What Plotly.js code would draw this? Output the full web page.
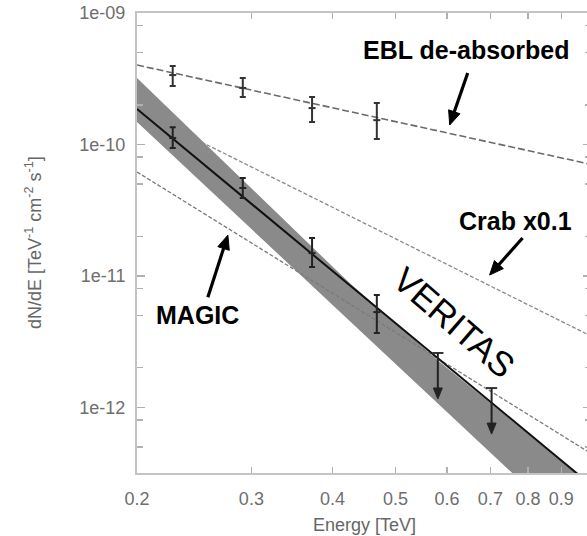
<!DOCTYPE html>
<html>
<head>
<meta charset="utf-8">
<script src="https://cdn.plot.ly/plotly-3.0.1.min.js"></script>
<style>
  html, body { margin: 0; padding: 0; overflow: hidden; background: #fff; }
  #chart { width: 600px; height: 536px; }
</style>
</head>
<body>
<div id="chart"></div>
<script>
// Energy axis ticks [TeV]
const xTickVals = [0.2, 0.3, 0.4, 0.5, 0.6, 0.7, 0.8, 0.9];
const xTickText = ['0.2', '0.3', '0.4', '0.5', '0.6', '0.7', '0.8', '0.9'];

// Flux axis ticks [TeV^-1 cm^-2 s^-1]
const yTickVals = [1e-9, 1e-10, 1e-11, 1e-12];
const yTickText = ['1e-09', '1e-10', '1e-11', '1e-12'];
const yMinorVals = [8e-10, 5e-10, 2e-10, 8e-11, 5e-11, 2e-11, 8e-12, 5e-12, 2e-12, 8e-13, 5e-13];

// Power-law curves (end points in energy / flux)
const eblLineE = [0.2, 1.0];
const eblLineF = [4.02e-10, 7.05e-11];
const crabE = [0.2, 1.0];
const crabF = [1.83e-10, 3.48e-12];
const magicE = [0.2, 1.0];
const magicF = [6.17e-11, 4.45e-13];
const veritasFitE = [0.2, 1.0];
const veritasFitF = [1.86e-10, 2.56e-13];

// VERITAS confidence band edges
const bandUpperE = [0.2, 0.425, 0.585, 1.0];
const bandUpperF = [3.20e-10, 8.81e-12, 2.21e-12, 2.61e-13];
const bandLowerE = [0.2, 1.0];
const bandLowerF = [1.48e-10, 8.7e-14];

// Measured VERITAS points
const pointE = [0.227, 0.291, 0.372, 0.468];
const veritasF = [1.12e-10, 4.66e-11, 1.49e-11, 5.3e-12];
const veritasLo = [9.4e-11, 3.91e-11, 1.17e-11, 3.67e-12];
const veritasHi = [1.35e-10, 5.55e-11, 1.94e-11, 7.14e-12];

// EBL de-absorbed points
const eblF = [3.37e-10, 2.69e-10, 1.89e-10, 1.53e-10];
const eblLo = [2.78e-10, 2.30e-10, 1.48e-10, 1.10e-10];
const eblHi = [3.95e-10, 3.20e-10, 2.30e-10, 2.07e-10];

// Upper limits
const ulE = [0.581, 0.703];
const ulF = [2.59e-12, 1.40e-12];

// Label texts and the points their arrows touch
const labels = ['EBL de-absorbed', 'Crab x0.1', 'MAGIC'];
const labelE = [0.644, 0.766, 0.248];
const labelF = [5.23e-10, 2.61e-11, 5.03e-12];
const pointerE = [0.606, 0.698, 0.276];
const pointerF = [1.405e-10, 1.014e-11, 2.04e-11];
const pointerTail = [[18, -52], [33, -37], [-20, 62]];   // pixel offset of the arrow tail

const plus = (v, hi) => v.map((f, i) => hi[i] - f);
const minus = (v, lo) => v.map((f, i) => f - lo[i]);

const bandX = bandUpperE.concat(bandLowerE.slice().reverse());
const bandY = bandUpperF.concat(bandLowerF.slice().reverse());

const traces = [
  { x: bandX, y: bandY, mode: 'lines', fill: 'toself',
    fillcolor: 'rgb(138,138,138)', line: { width: 0 }, hoverinfo: 'skip' },
  { x: eblLineE, y: eblLineF, mode: 'lines',
    line: { color: '#6a6a6a', width: 1.6, dash: '7px,3px' } },
  { x: crabE, y: crabF, mode: 'lines',
    line: { color: '#8a8a8a', width: 1.3, dash: '4px,2px' } },
  { x: magicE, y: magicF, mode: 'lines',
    line: { color: '#7a7a7a', width: 1.3, dash: '4px,2px' } },
  { x: veritasFitE, y: veritasFitF, mode: 'lines',
    line: { color: '#111', width: 2 } },
  { x: pointE, y: eblF, mode: 'markers',
    marker: { symbol: 'line-ew', size: 5, line: { width: 2, color: '#333' } },
    error_y: { type: 'data', array: plus(eblF, eblHi), arrayminus: minus(eblF, eblLo),
               color: '#333', thickness: 2, width: 3 } },
  { x: pointE, y: veritasF, mode: 'markers',
    marker: { symbol: 'line-ew', size: 5, line: { width: 2, color: '#222' } },
    error_y: { type: 'data', array: plus(veritasF, veritasHi), arrayminus: minus(veritasF, veritasLo),
               color: '#222', thickness: 2, width: 3 } },
  { x: ulE, y: ulF, mode: 'markers',
    marker: { symbol: 'line-ew', size: 8, line: { width: 2, color: '#333' } } }
];

// Arrow drawn as a shaft plus a filled head, in pixels around a data anchor.
// (tx, ty) tail and (hx, hy) head are screen offsets (y downwards).
function arrowShapes(ax, ay, tx, ty, hx, hy, width, headLen, headHalf, color) {
  const dx = tx - hx, dy = ty - hy;
  const len = Math.hypot(dx, dy);
  const ux = dx / len, uy = dy / len;
  const bx = hx + ux * headLen, by = hy + uy * headLen;
  const sx = hx + ux * headLen * 0.7, sy = hy + uy * headLen * 0.7;
  const px = -uy, py = ux;
  const v1 = [bx + px * headHalf, by + py * headHalf];
  const v2 = [bx - px * headHalf, by - py * headHalf];
  const common = { type: 'path', xref: 'x', yref: 'y', xsizemode: 'pixel', ysizemode: 'pixel',
                   xanchor: ax, yanchor: ay };
  return [
    Object.assign({ path: `M${sx},${-sy} L${tx},${-ty}`,
                    line: { color: color, width: width } }, common),
    Object.assign({ path: `M${hx},${-hy} L${v1[0]},${-v1[1]} L${v2[0]},${-v2[1]} Z`,
                    fillcolor: color, line: { color: color, width: 1 } }, common)
  ];
}

const shapes = [];
pointerE.forEach((e, i) => {
  shapes.push(...arrowShapes(e, pointerF[i], pointerTail[i][0], pointerTail[i][1], 0, 0,
                             3.2, 14, 6, '#000'));
});
ulE.forEach((e, i) => {
  shapes.push(...arrowShapes(e, ulF[i], 0, 0, 0, 46, 2, 11, 4.5, '#222'));
});

const font = 'Liberation Sans, Arial, sans-serif';
const lg = Math.log10;

const annotations = labels.map((t, i) => ({
  x: lg(labelE[i]), y: lg(labelF[i]), xref: 'x', yref: 'y', text: '<b>' + t + '</b>',
  showarrow: false, font: { family: font, size: 25, color: '#000' }
}));
annotations.push(
  { x: lg(0.617), y: lg(4.45e-12), xref: 'x', yref: 'y', text: 'VERITAS', textangle: 41,
    showarrow: false, font: { family: font, size: 35, color: '#000' } },
  { x: 0, y: 0.5, xref: 'paper', yref: 'paper', xshift: -104, xanchor: 'center', yanchor: 'middle',
    textangle: -90, showarrow: false,
    text: 'dN/dE [TeV<sup>-1</sup> cm<sup>-2</sup> s<sup>-1</sup>]',
    font: { family: font, size: 18, color: '#666' } },
  { x: 0.5, y: 0, xref: 'paper', yref: 'paper', yshift: -52, xanchor: 'center', yanchor: 'middle',
    showarrow: false, text: 'Energy [TeV]',
    font: { family: font, size: 18, color: '#666' } }
);

const axisCommon = {
  type: 'log', showgrid: false, zeroline: false,
  showline: true, linecolor: '#c4c4c4', linewidth: 2, mirror: 'ticks',
  ticks: 'inside', tickcolor: '#b0b0b0', tickwidth: 1.5,
  tickfont: { family: font, size: 18, color: '#6e6e6e' }
};

const layout = {
  width: 600, height: 536,
  margin: { l: 137, r: 9, t: 13, b: 63 },
  paper_bgcolor: '#fff', plot_bgcolor: '#fff',
  showlegend: false,
  xaxis: Object.assign({}, axisCommon, {
    range: [lg(0.2), 0], tickmode: 'array', tickvals: xTickVals, ticktext: xTickText,
    ticklen: 6, ticklabelstandoff: 8
  }),
  yaxis: Object.assign({}, axisCommon, {
    range: [-12.5, -9], tickmode: 'array', tickvals: yTickVals, ticktext: yTickText,
    ticklen: 8, ticklabelstandoff: 6,
    minor: { tickmode: 'array', tickvals: yMinorVals, ticks: 'inside', ticklen: 6,
             tickcolor: '#b0b0b0', tickwidth: 1.5 }
  }),
  shapes: shapes,
  annotations: annotations
};

Plotly.newPlot('chart', traces, layout, { displayModeBar: false, staticPlot: true });
</script>
</body>
</html>
